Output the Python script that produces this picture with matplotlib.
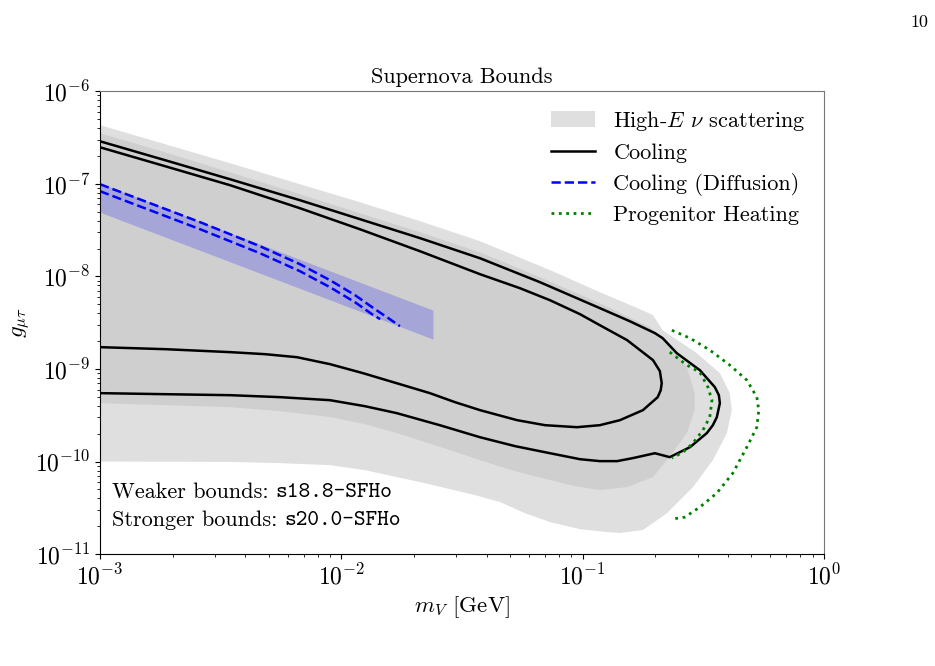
import matplotlib
matplotlib.use("Agg")
import matplotlib.pyplot as plt
from matplotlib.patches import Patch
from matplotlib.lines import Line2D

plt.rcParams["font.family"] = "cmr10"
plt.rcParams["mathtext.fontset"] = "cm"
plt.rcParams["axes.formatter.use_mathtext"] = True

# High-E nu scattering, larger (outer) region, closed contour
outer_x = [1.0e-3, 1.86e-3, 3.46e-3, 6.74e-3, 1.195e-2, 2.12e-2, 3.76e-2, 7.33e-2, 0.118, 0.173, 0.196,
           0.215, 0.298, 0.371, 0.408, 0.416, 0.397, 0.347, 0.287, 0.224, 0.178, 0.143, 0.126,
           9.76e-2, 7.33e-2, 5.77e-2, 4.55e-2, 3.58e-2, 2.82e-2, 2.22e-2, 1.70e-2, 1.254e-2, 8.98e-3,
           5.57e-3, 3.46e-3, 1.0e-3]
outer_g = [4.30e-7, 2.68e-7, 1.67e-7, 9.9e-8, 6.33e-8, 3.95e-8, 2.40e-8, 1.17e-8, 6.75e-9, 4.42e-9, 3.81e-9,
           2.62e-9, 1.48e-9, 9.01e-10, 5.48e-10, 3.59e-10, 2.03e-10, 1.035e-10, 5.29e-11, 2.77e-11, 1.82e-11, 1.69e-11, 1.73e-11,
           1.86e-11, 2.22e-11, 2.77e-11, 3.65e-11, 4.34e-11, 5.03e-11, 5.84e-11, 6.79e-11, 8.07e-11, 9.14e-11,
           9.61e-11, 9.9e-11, 1.0e-10]

# High-E nu scattering, smaller (inner) region
inner_x = [1.0e-3, 1.86e-3, 3.46e-3, 6.74e-3, 1.195e-2, 2.12e-2, 3.76e-2, 6.66e-2, 0.118, 0.190,
           0.224, 0.271, 0.292, 0.292, 0.271, 0.224, 0.196, 0.153, 0.118,
           9.30e-2, 7.33e-2, 5.25e-2, 3.76e-2, 2.82e-2, 1.70e-2, 1.254e-2, 8.98e-3, 5.57e-3, 3.46e-3,
           1.86e-3, 1.0e-3]
inner_g = [3.52e-7, 2.19e-7, 1.33e-7, 7.72e-8, 4.81e-8, 3.00e-8, 1.82e-8, 9.80e-9, 5.14e-9, 2.83e-9,
           1.90e-9, 1.045e-9, 5.48e-10, 3.59e-10, 2.03e-10, 1.035e-10, 6.79e-11, 5.29e-11, 4.91e-11,
           5.42e-11, 6.30e-11, 7.87e-11, 1.035e-10, 1.33e-10, 2.03e-10, 2.53e-10, 3.02e-10, 3.50e-10, 3.87e-10,
           4.06e-10, 4.27e-10]

# cooling, stronger bound
cool_s_x = [1.0e-3, 1.86e-3, 3.46e-3, 6.74e-3, 1.195e-2, 2.12e-2, 3.76e-2, 6.66e-2, 0.118, 0.157, 0.1995,
            0.215, 0.246, 0.3065, 0.3537, 0.3675, 0.371, 0.3605, 0.347, 0.3277, 0.279, 0.230, 0.1995, 0.162,
            0.139, 0.118, 9.76e-2, 7.33e-2, 5.25e-2, 3.76e-2, 2.56e-2, 1.70e-2, 1.254e-2, 8.98e-3, 5.57e-3,
            3.46e-3, 1.86e-3, 1.0e-3]
cool_s_g = [2.88e-7, 1.80e-7, 1.12e-7, 6.65e-8, 4.15e-8, 2.59e-8, 1.57e-8, 8.66e-9, 4.54e-9, 3.28e-9, 2.44e-9,
            2.15e-9, 1.48e-9, 9.70e-10, 6.36e-10, 5.21e-10, 4.27e-10, 3.02e-10, 2.47e-10, 2.03e-10, 1.43e-10, 1.115e-10, 1.23e-10, 1.09e-10,
            1.01e-10, 1.01e-10, 1.06e-10, 1.23e-10, 1.467e-10, 1.83e-10, 2.47e-10, 3.33e-10, 3.96e-10, 4.60e-10, 4.96e-10,
            5.21e-10, 5.34e-10, 5.48e-10]

# cooling, weaker bound
cool_w_x = [1.0e-3, 1.86e-3, 3.46e-3, 4.83e-3, 6.55e-3, 8.98e-3, 1.23e-2, 1.75e-2, 2.33e-2, 2.96e-2,
            3.76e-2, 5.35e-2, 6.99e-2, 9.48e-2, 0.118, 0.143, 0.178, 0.205, 0.211, 0.213, 0.2093, 0.196, 0.153,
            0.118, 9.76e-2, 7.33e-2, 5.50e-2, 3.76e-2, 2.12e-2, 1.195e-2, 6.74e-3, 3.46e-3, 1.86e-3, 1.0e-3]
cool_w_g = [1.72e-9, 1.636e-9, 1.52e-9, 1.445e-9, 1.34e-9, 1.127e-9, 9.01e-10, 6.85e-10, 5.48e-10, 4.38e-10,
            3.59e-10, 2.80e-10, 2.47e-10, 2.35e-10, 2.47e-10, 2.80e-10, 3.59e-10, 4.96e-10, 5.90e-10, 7.03e-10, 9.47e-10, 1.245e-9, 2.05e-9,
            2.97e-9, 3.91e-9, 5.53e-9, 7.46e-9, 1.056e-8, 1.87e-8, 3.23e-8, 5.45e-8, 9.66e-8, 1.55e-7, 2.48e-7]

# cooling (diffusion) band and curves
band_x = [1.0e-3, 2.40e-2]
band_lo = [4.93e-8, 2.10e-9]
band_hi = [1.015e-7, 4.32e-9]

diff_a_x = [1.0e-3, 2.60e-3, 4.60e-3, 6.74e-3, 8.98e-3, 1.14e-2, 1.38e-2, 1.59e-2, 1.75e-2]
diff_a_g = [9.9e-8, 3.85e-8, 2.12e-8, 1.354e-8, 9.10e-9, 6.27e-9, 4.42e-9, 3.45e-9, 2.90e-9]
diff_b_x = [1.0e-3, 2.60e-3, 4.60e-3, 6.74e-3, 8.98e-3, 1.14e-2, 1.34e-2, 1.45e-2]
diff_b_g = [8.32e-8, 3.23e-8, 1.78e-8, 1.138e-8, 7.64e-9, 5.26e-9, 3.91e-9, 3.45e-9]

# progenitor heating
heat_a_x = [0.230, 0.271, 0.3065, 0.331, 0.344, 0.337, 0.3155, 0.287, 0.261, 0.2347]
heat_a_g = [1.52e-9, 1.10e-9, 9.23e-10, 6.36e-10, 4.60e-10, 3.02e-10, 2.18e-10, 1.58e-10, 1.26e-10, 1.09e-10]
heat_b_x = [0.2347, 0.279, 0.337, 0.408, 0.480, 0.528, 0.538, 0.528, 0.480, 0.420,
            0.3605, 0.3065, 0.2657, 0.2347]
heat_b_g = [2.62e-9, 2.15e-9, 1.60e-9, 1.10e-9, 7.57e-10, 4.96e-10, 3.59e-10, 2.35e-10, 1.43e-10, 7.50e-11,
            4.56e-11, 3.22e-11, 2.51e-11, 2.39e-11]

fig = plt.figure(figsize=(9.35, 6.66), dpi=100)
ax = fig.add_axes([0.107, 0.168, 0.774, 0.695])
ax.set_xscale("log")
ax.set_yscale("log")

ax.fill(outer_x, outer_g, color="silver", alpha=0.5, lw=0)
ax.fill(inner_x, inner_g, color="silver", alpha=0.5, lw=0)
ax.fill_between(band_x, band_lo, band_hi, color="blue", alpha=0.2, lw=0)

ax.plot(cool_s_x, cool_s_g, "k-", lw=1.8)
ax.plot(cool_w_x, cool_w_g, "k-", lw=1.8)
ax.plot(diff_a_x, diff_a_g, color="blue", ls="--", lw=1.8)
ax.plot(diff_b_x, diff_b_g, color="blue", ls="--", lw=1.8)
ax.plot(heat_a_x, heat_a_g, color="green", ls=":", lw=2)
ax.plot(heat_b_x, heat_b_g, color="green", ls=":", lw=2)

ax.set_xlim(1e-3, 1)
ax.set_ylim(1e-11, 1e-6)
ax.set_xlabel(r"$m_V$ [GeV]", fontsize=16.5)
ax.set_ylabel(r"$g_{\mu\tau}$", fontsize=16.5, labelpad=2)
ax.set_title("Supernova Bounds", fontsize=16)
ax.tick_params(labelsize=17)
ax.spines["top"].set_color("#777777")
ax.spines["right"].set_color("#777777")

handles = [
    Patch(color="silver", alpha=0.5, lw=0),
    Line2D([], [], color="k", lw=1.8),
    Line2D([], [], color="blue", ls="--", lw=1.8),
    Line2D([], [], color="green", ls=":", lw=2),
]
labels = [r"High-$E$ $\nu$ scattering", "Cooling", "Cooling (Diffusion)", "Progenitor Heating"]
ax.legend(handles, labels, loc="upper right", frameon=False, fontsize=16,
          borderaxespad=0.4, labelspacing=0.45)

t1 = ax.text(0.016, 0.134, "Weaker bounds: ", transform=ax.transAxes, fontsize=16, va="center")
t2 = ax.text(0.016, 0.073, "Stronger bounds: ", transform=ax.transAxes, fontsize=16, va="center")
ax.annotate("s18.8-SFHo", xy=(1, 0.5), xycoords=t1, va="center", fontsize=16, family="cmtt10")
ax.annotate("s20.0-SFHo", xy=(1, 0.5), xycoords=t2, va="center", fontsize=16, family="cmtt10")

fig.text(0.993, 0.967, "10", fontsize=13, ha="right", va="center")

fig.savefig("out.png", dpi=100)
